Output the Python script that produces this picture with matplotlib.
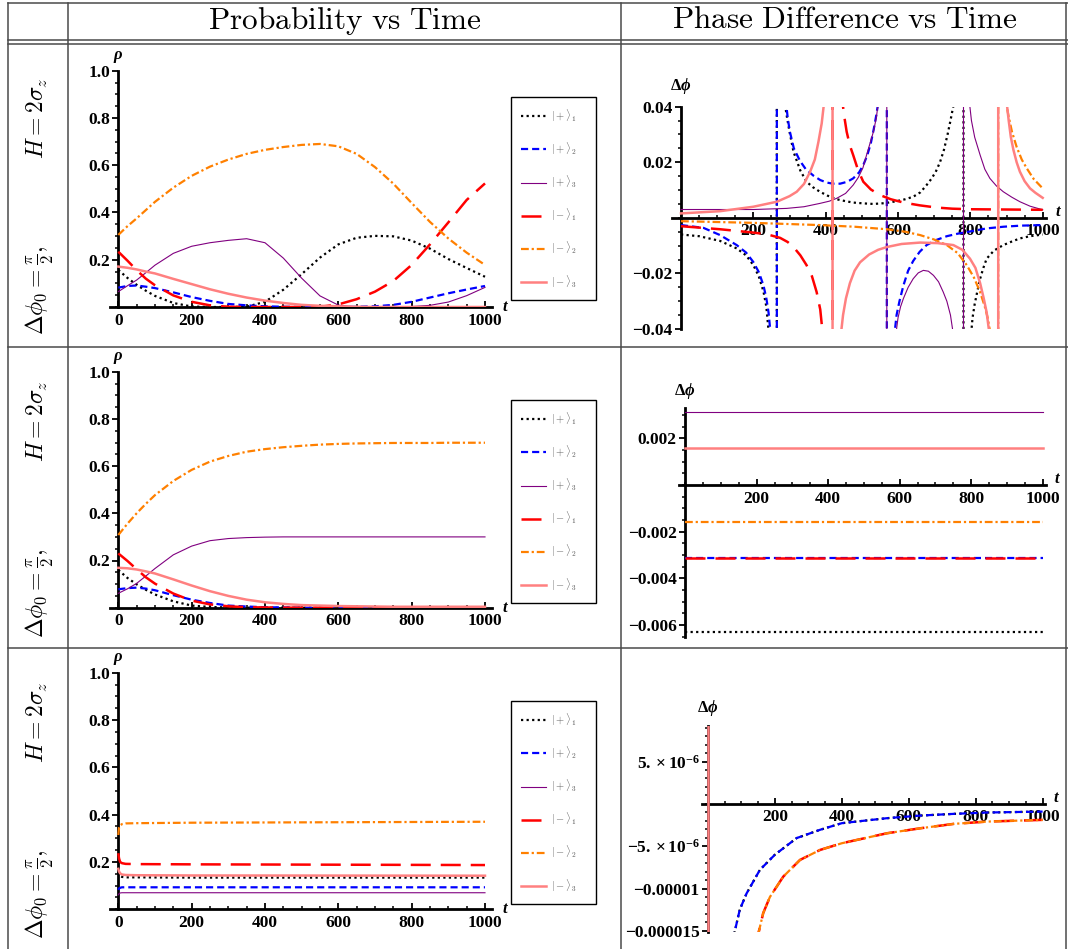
import matplotlib
matplotlib.use("Agg")
import matplotlib.pyplot as plt
from matplotlib.lines import Line2D
from matplotlib.ticker import MultipleLocator
from matplotlib.font_manager import FontProperties

W, H = 1068, 949

plt.rcParams.update({
    "font.family": "Liberation Serif",
    "font.weight": "bold",
    "mathtext.fontset": "custom",
    "mathtext.rm": "Liberation Serif:bold",
    "mathtext.it": "Liberation Serif:italic:bold",
    "mathtext.bf": "Liberation Serif:bold",
})

# ---------------- data ----------------
headers = [r"$\mathrm{Probability\ vs\ Time}$", r"$\mathrm{Phase\ Difference\ vs\ Time}$"]
row_label = r"$\Delta\phi_0 = \frac{\pi}{2},\qquad\qquad H = 2\sigma_z$"
state_labels = [r"$|+\rangle_1$", r"$|+\rangle_2$", r"$|+\rangle_3$",
                r"$|-\rangle_1$", r"$|-\rangle_2$", r"$|-\rangle_3$"]

# probability, rows 1 and 2 (read on a common time grid)
t_grid = [0, 25, 50, 75, 100, 150, 200, 250, 300, 350, 400, 450, 500, 550, 600,
          650, 700, 750, 800, 850, 900, 950, 1000]

prob1_p1 = [0.157, 0.123, 0.094, 0.069, 0.047, 0.017, 0.002, 0, 0, 0.001, 0.022, 0.073,
            0.139, 0.209, 0.265, 0.293, 0.301, 0.299, 0.281, 0.247, 0.203, 0.165, 0.128]
prob1_p2 = [0.082, 0.089, 0.091, 0.086, 0.080, 0.062, 0.042, 0.026, 0.013, 0.007, 0.003, 0.001,
            0, 0, 0, 0.001, 0.003, 0.009, 0.022, 0.040, 0.058, 0.074, 0.089]
prob1_p3 = [0.065, 0.090, 0.114, 0.145, 0.177, 0.227, 0.257, 0.272, 0.282, 0.289, 0.272, 0.207,
            0.122, 0.047, 0.008, 0, 0, 0, 0.002, 0.007, 0.021, 0.048, 0.083]
prob1_m1 = [0.234, 0.196, 0.156, 0.120, 0.092, 0.049, 0.022, 0.007, 0.001, 0, 0, 0,
            0, 0.001, 0.011, 0.033, 0.065, 0.110, 0.178, 0.265, 0.358, 0.453, 0.523]
prob1_m2 = [0.305, 0.342, 0.375, 0.410, 0.445, 0.505, 0.555, 0.594, 0.624, 0.648, 0.665, 0.677,
            0.686, 0.690, 0.680, 0.648, 0.592, 0.522, 0.440, 0.360, 0.290, 0.230, 0.178]
prob1_m3 = [0.171, 0.166, 0.159, 0.150, 0.142, 0.119, 0.097, 0.075, 0.056, 0.040, 0.027, 0.017,
            0.009, 0.005, 0.003, 0.001, 0, 0, 0, 0, 0, 0, 0]

prob2_p1 = [0.160, 0.126, 0.099, 0.076, 0.056, 0.027, 0.009, 0.003, 0.001, 0, 0, 0,
            0, 0, 0, 0, 0, 0, 0, 0, 0, 0, 0]
prob2_p2 = [0.078, 0.083, 0.085, 0.081, 0.074, 0.053, 0.034, 0.020, 0.009, 0.005, 0.002, 0.001,
            0, 0, 0, 0, 0, 0, 0, 0, 0, 0, 0]
prob2_p3 = [0.061, 0.080, 0.103, 0.134, 0.166, 0.224, 0.261, 0.284, 0.293, 0.297, 0.299, 0.300,
            0.300, 0.300, 0.300, 0.300, 0.300, 0.300, 0.300, 0.300, 0.300, 0.300, 0.300]
prob2_m1 = [0.230, 0.198, 0.163, 0.129, 0.102, 0.060, 0.030, 0.014, 0.006, 0.002, 0.001, 0,
            0, 0, 0, 0, 0, 0, 0, 0, 0, 0, 0]
prob2_m2 = [0.308, 0.356, 0.400, 0.440, 0.477, 0.537, 0.584, 0.619, 0.643, 0.661, 0.672, 0.680,
            0.686, 0.691, 0.694, 0.696, 0.697, 0.698, 0.698, 0.698, 0.699, 0.699, 0.699]
prob2_m3 = [0.169, 0.167, 0.162, 0.154, 0.145, 0.120, 0.094, 0.070, 0.050, 0.034, 0.023, 0.016,
            0.011, 0.009, 0.007, 0.006, 0.005, 0.004, 0.004, 0.004, 0.004, 0.004, 0.004]

# probability, row 3
t_grid3 = [0, 2, 5, 10, 20, 50, 200, 1000]
prob3_p1 = [0.157, 0.147, 0.140, 0.137, 0.135, 0.135, 0.134, 0.134]
prob3_p2 = [0.082, 0.088, 0.091, 0.093, 0.093, 0.093, 0.093, 0.093]
prob3_p3 = [0.061, 0.066, 0.069, 0.070, 0.070, 0.070, 0.070, 0.070]
prob3_m1 = [0.237, 0.215, 0.200, 0.195, 0.192, 0.191, 0.190, 0.187]
prob3_m2 = [0.314, 0.345, 0.355, 0.360, 0.363, 0.364, 0.366, 0.370]
prob3_m3 = [0.171, 0.160, 0.152, 0.147, 0.145, 0.144, 0.143, 0.142]

# phase difference, row 1 (values of +/-1 mark the off-scale jumps)
phase1_t_p1 = [0, 50, 108, 154, 180, 200, 215, 228, 236, 243, 265, 265, 286, 292, 300, 311, 330,
               347, 365, 384, 405, 430, 455, 476, 505, 532, 565, 596, 620, 642, 662, 679, 692,
               704, 716, 727, 737, 745, 751, 756, 781, 781, 802, 806, 812, 820, 827, 836, 845,
               865, 891, 915, 937, 965, 1000]
phase1_p1 = [-0.006, -0.0066, -0.0083, -0.011, -0.0135, -0.017, -0.021, -0.0265, -0.032, -0.042,
             -1, 1, 0.042, 0.037, 0.031, 0.0238, 0.017, 0.013, 0.011, 0.0094, 0.008, 0.0067,
             0.006, 0.0055, 0.0052, 0.005, 0.0053, 0.006, 0.0067, 0.0076, 0.0092, 0.0118, 0.014,
             0.0165, 0.020, 0.0245, 0.030, 0.035, 0.039, 0.042, 1, -1, -0.042, -0.036, -0.031,
             -0.026, -0.0219, -0.018, -0.0147, -0.0118, -0.0098, -0.0085, -0.0074, -0.0066,
             -0.006]
phase1_t_p2 = [0, 62, 108, 154, 180, 200, 215, 228, 236, 242, 248, 265, 265, 290, 295, 301, 312,
               329, 345, 366, 385, 403, 420, 440, 460, 476, 492, 504, 515, 525, 533, 540, 546,
               569, 569, 590, 596, 604, 615, 628, 642, 660, 679, 705, 735, 765, 799, 845, 891,
               940, 1000]
phase1_p2 = [-0.0026, -0.0036, -0.0062, -0.0098, -0.0125, -0.0159, -0.0195, -0.0243, -0.029,
             -0.034, -0.042, -1, 1, 0.042, 0.036, 0.031, 0.025, 0.0205, 0.0175, 0.0152, 0.0136,
             0.0127, 0.0123, 0.0123, 0.013, 0.0142, 0.0163, 0.019, 0.0225, 0.027, 0.032, 0.037,
             0.042, 1, -1, -0.042, -0.035, -0.030, -0.0243, -0.019, -0.0155, -0.0122, -0.0098,
             -0.008, -0.0066, -0.0057, -0.0049, -0.0038, -0.0032, -0.0028, -0.0026]
phase1_t_p3 = [0, 100, 200, 292, 340, 384, 410, 430, 455, 476, 490, 503, 513, 523, 532, 540, 546,
               569, 569, 594, 600, 607, 615, 628, 642, 656, 670, 684, 698, 712, 725, 735, 745,
               753, 781, 781, 797, 803, 812, 827, 840, 854, 872, 891, 915, 937, 965, 1000]
phase1_p3 = [0.003, 0.003, 0.003, 0.0034, 0.004, 0.0052, 0.006, 0.007, 0.0088, 0.0118, 0.0145,
             0.018, 0.0226, 0.027, 0.031, 0.036, 0.042, 1, -1, -0.042, -0.036, -0.032, -0.029,
             -0.025, -0.0219, -0.0198, -0.0189, -0.0192, -0.0207, -0.023, -0.0267, -0.030,
             -0.035, -0.042, -1, 1, 0.042, 0.035, 0.029, 0.0226, 0.0175, 0.0142, 0.0115, 0.0094,
             0.0074, 0.0058, 0.0042, 0.0029]
phase1_t_m1 = [0, 108, 200, 240, 274, 295, 311, 330, 347, 362, 375, 385, 392, 419, 419, 446, 452,
               458, 467, 476, 490, 504, 525, 550, 580, 615, 660, 707, 750, 799, 900, 1000]
phase1_m1 = [-0.003, -0.0041, -0.0053, -0.006, -0.0072, -0.0087, -0.0105, -0.0135, -0.017,
             -0.021, -0.0267, -0.033, -0.042, -1, 1, 0.042, 0.036, 0.031, 0.026, 0.0226, 0.017,
             0.013, 0.0102, 0.0082, 0.0067, 0.0055, 0.0045, 0.0037, 0.0033, 0.0031, 0.003,
             0.0029]
phase1_t_m2 = [0, 200, 384, 480, 569, 620, 661, 700, 735, 765, 790, 810, 827, 840, 848, 856, 877,
               877, 898, 905, 915, 928, 942, 956, 975, 1000]
phase1_m2 = [-0.0012, -0.0018, -0.0026, -0.0032, -0.0041, -0.005, -0.0062, -0.0078, -0.0098,
             -0.0127, -0.017, -0.0215, -0.0267, -0.032, -0.036, -0.042, -1, 1, 0.042, 0.037,
             0.031, 0.0255, 0.021, 0.0178, 0.014, 0.0106]
phase1_t_m3 = [0, 108, 200, 265, 300, 320, 340, 357, 370, 380, 389, 396, 419, 419, 442, 448, 456,
               467, 480, 495, 520, 545, 569, 610, 661, 710, 753, 778, 799, 814, 827, 837, 845,
               853, 877, 877, 900, 906, 912, 919, 928, 937, 950, 965, 980, 1000]
phase1_m3 = [0.0016, 0.0024, 0.004, 0.0058, 0.0078, 0.0094, 0.0122, 0.0166, 0.021, 0.0274, 0.034,
             0.042, 1, -1, -0.042, -0.035, -0.029, -0.0235, -0.019, -0.016, -0.0132, -0.0115,
             -0.0105, -0.0094, -0.0089, -0.0091, -0.0098, -0.0115, -0.0147, -0.018, -0.0235,
             -0.029, -0.034, -0.042, -1, 1, 0.042, 0.035, 0.029, 0.0245, 0.020, 0.0166, 0.0132,
             0.0106, 0.009, 0.0072]

# phase difference, row 2 (constant levels)
phase2_t = [0, 1000]
phase2_levels = [-0.00628, -0.00314, 0.00314, -0.00314, -0.00157, 0.00157]

# phase difference, row 3 (in units of 1e-6)
phase3_t_p = [70, 78, 95, 115, 155, 200, 265, 335, 400, 535, 635, 735, 835, 1000]
phase3_p = [-18, -15.4, -12.5, -10.6, -7.8, -6.0, -4.04, -3.06, -2.28, -1.69, -1.38, -1.18,
            -1.02, -0.91]
phase3_t_m = [145, 150, 165, 185, 225, 275, 335, 400, 535, 635, 735, 835, 1000]
phase3_m = [-17, -15.4, -12.9, -11.0, -8.59, -6.62, -5.44, -4.65, -3.47, -2.88, -2.36, -2.09,
            -1.89]
phase3_t_spike = [1, 1]
phase3_spike = [20, -20]

prob_xticks = [0, 200, 400, 600, 800, 1000]
prob_yticks = [0.2, 0.4, 0.6, 0.8, 1.0]
phase_xticks = [200, 400, 600, 800, 1000]
phase1_yticks = [-0.04, -0.02, 0.02, 0.04]
phase1_ylabels = ["\u22120.04", "\u22120.02", "0.02", "0.04"]
phase2_yticks = [-0.006, -0.004, -0.002, 0.002]
phase2_ylabels = ["\u22120.006", "\u22120.004", "\u22120.002", "0.002"]
phase3_yticks = [-1.5e-5, -1e-5, -5e-6, 5e-6]
phase3_ylabels = ["\u22120.000015", "\u22120.00001", r"$-5.\times10^{-6}$", r"$5.\times10^{-6}$"]

# ---------------- styles ----------------
styles = [
    dict(color="black", lw=1.6, ls=(0, (1, 1.5))),
    dict(color="#0000ff", lw=1.6, ls=(0, (3.2, 1.8))),
    dict(color="#800080", lw=0.8, ls="-"),
    dict(color="#ff0000", lw=1.8, ls=(0, (8, 4))),
    dict(color="#ff8000", lw=1.6, ls=(0, (3.5, 1.3, 1, 1.3))),
    dict(color="#ff8080", lw=1.8, ls="-"),
]
TICK_FS = 12.5
row_tops = [44, 347, 648]


def axes_px(x0, scale, xlim, ytop, ybot):
    left = x0 + xlim[0] * scale
    right = x0 + xlim[1] * scale
    return fig.add_axes([left / W, 1 - ybot / H, (right - left) / W, (ybot - ytop) / H])


def style_axes(ax, xlim, ylim, xminor, yminor):
    ax.set_xlim(*xlim)
    ax.set_ylim(*ylim)
    ax.patch.set_alpha(0)
    for s in ("top", "right"):
        ax.spines[s].set_visible(False)
    ax.spines["left"].set_position(("data", 0))
    ax.spines["bottom"].set_position(("data", 0))
    for s in ("left", "bottom"):
        ax.spines[s].set_linewidth(2)
    ax.xaxis.set_minor_locator(MultipleLocator(xminor))
    ax.yaxis.set_minor_locator(MultipleLocator(yminor))
    ax.tick_params(axis="x", which="major", direction="in", length=4, width=1.3,
                   labelsize=TICK_FS, pad=4)
    ax.tick_params(axis="y", which="major", direction="out", length=4, width=1.3,
                   labelsize=TICK_FS, pad=2)
    ax.tick_params(which="minor", length=2, width=1.1)
    ax.tick_params(axis="x", which="minor", direction="in")
    ax.tick_params(axis="y", which="minor", direction="out")


def axis_labels(ax, ylab, top_off, t_off=(7, 0)):
    ymax = ax.get_ylim()[1]
    ax.annotate(ylab, xy=(0, ymax), xytext=(0, top_off), textcoords="offset points",
                ha="center", va="center", fontsize=12, annotation_clip=False)
    ax.annotate(r"$t$", xy=(1, 0), xycoords=("axes fraction", "data"), xytext=t_off,
                textcoords="offset points", ha="left", va="center", fontsize=12,
                annotation_clip=False)


fig = plt.figure(figsize=(W / 100, H / 100), dpi=100)

# ---------------- table frame ----------------
line_kw = dict(color="#4a4a4a", lw=1.1, transform=fig.transFigure)
for y in [3, 40, 44, 347, 648]:
    fig.add_artist(Line2D([8 / W, 1], [1 - y / H, 1 - y / H], **line_kw))
for x in [8, 68, 621, 1066]:
    fig.add_artist(Line2D([x / W, x / W], [1 - 3 / H, 0], **line_kw))

fig.text(345 / W, 1 - 21 / H, headers[0], math_fontfamily="cm", fontsize=22.5,
         ha="center", va="center")
fig.text(845 / W, 1 - 21 / H, headers[1], math_fontfamily="cm", fontsize=22.5,
         ha="center", va="center")
for top in row_tops:
    fig.text(40 / W, 1 - (top + 162) / H, row_label, math_fontfamily="cm", fontsize=17,
             rotation=90, ha="center", va="center")

# ---------------- probability panels ----------------
prob_rows = [
    (t_grid, [prob1_p1, prob1_p2, prob1_p3, prob1_m1, prob1_m2, prob1_m3], 70.7, 307.0),
    (t_grid, [prob2_p1, prob2_p2, prob2_p3, prob2_m1, prob2_m2, prob2_m3], 371.7, 607.7),
    (t_grid3, [prob3_p1, prob3_p2, prob3_p3, prob3_m1, prob3_m2, prob3_m3], 672.7, 909.3),
]
legend_font = FontProperties(size=7.5, math_fontfamily="cm")
handles = [Line2D([], [], **st) for st in styles]
for (tt, series, ytop, ybot), top in zip(prob_rows, row_tops):
    ax = axes_px(118.3, 0.3667, (-22, 1020), ytop, ybot)
    style_axes(ax, (-22, 1020), (0, 1.0), 50, 0.05)
    for ys, st in zip(series, styles):
        ax.plot(tt, ys, zorder=3, **st)
    ax.set_xticks(prob_xticks, [str(v) for v in prob_xticks])
    ax.set_yticks(prob_yticks, ["%.1f" % v for v in prob_yticks])
    axis_labels(ax, r"$\rho$", 10)
    lx0, lx1 = 511, 596
    ly0 = top + 53
    leg = ax.legend(handles, state_labels, loc="upper left", mode="expand",
                    bbox_to_anchor=(lx0 / W, 1 - (ly0 + 180) / H, (lx1 - lx0) / W, 180 / H),
                    bbox_transform=fig.transFigure, borderaxespad=0, prop=legend_font,
                    labelcolor="#555555", handlelength=2.4, handletextpad=0.4,
                    labelspacing=1.6, borderpad=1.0, fancybox=False, framealpha=1,
                    edgecolor="black")
    leg.get_frame().set_linewidth(1.0)

# ---------------- phase panels ----------------
ax = axes_px(681, 0.3617, (-26, 1010), 106.7, 329)
style_axes(ax, (-26, 1010), (-0.04, 0.04), 50, 0.005)
phase1 = [(phase1_t_p1, phase1_p1), (phase1_t_p2, phase1_p2), (phase1_t_p3, phase1_p3),
          (phase1_t_m1, phase1_m1), (phase1_t_m2, phase1_m2), (phase1_t_m3, phase1_m3)]
for (tt, ys), st in zip(phase1, styles):
    ax.plot(tt, ys, zorder=3, **st)
ax.set_xticks(phase_xticks, [str(v) for v in phase_xticks])
ax.set_yticks(phase1_yticks, phase1_ylabels)
axis_labels(ax, r"$\Delta\phi$", 15, (6, 4))

ax = axes_px(685.2, 0.3575, (-17, 1008), 408, 636.7)
style_axes(ax, (-17, 1008), (-0.0065, 0.0033), 50, 0.0005)
for lev, st in zip(phase2_levels, styles):
    ax.plot(phase2_t, [lev, lev], zorder=3, **st)
ax.set_xticks(phase_xticks, [str(v) for v in phase_xticks])
ax.set_yticks(phase2_yticks, phase2_ylabels)
axis_labels(ax, r"$\Delta\phi$", 12, (6, 4))

ax = axes_px(708, 0.3346, (-19, 1007), 726, 931.7)
style_axes(ax, (-19, 1007), (-1.51e-5, 9.2e-6), 50, 1e-6)
phase3 = [(phase3_t_p, phase3_p), (phase3_t_p, phase3_p), (phase3_t_spike, phase3_spike),
          (phase3_t_m, phase3_m), (phase3_t_m, phase3_m), (phase3_t_spike, phase3_spike)]
for (tt, ys), st in zip(phase3, styles):
    ax.plot(tt, [v * 1e-6 for v in ys], zorder=3, **st)
ax.set_xticks(phase_xticks, [str(v) for v in phase_xticks])
ax.set_yticks(phase3_yticks, phase3_ylabels)
axis_labels(ax, r"$\Delta\phi$", 13, (6, 4))

fig.savefig("out.png", dpi=100)
